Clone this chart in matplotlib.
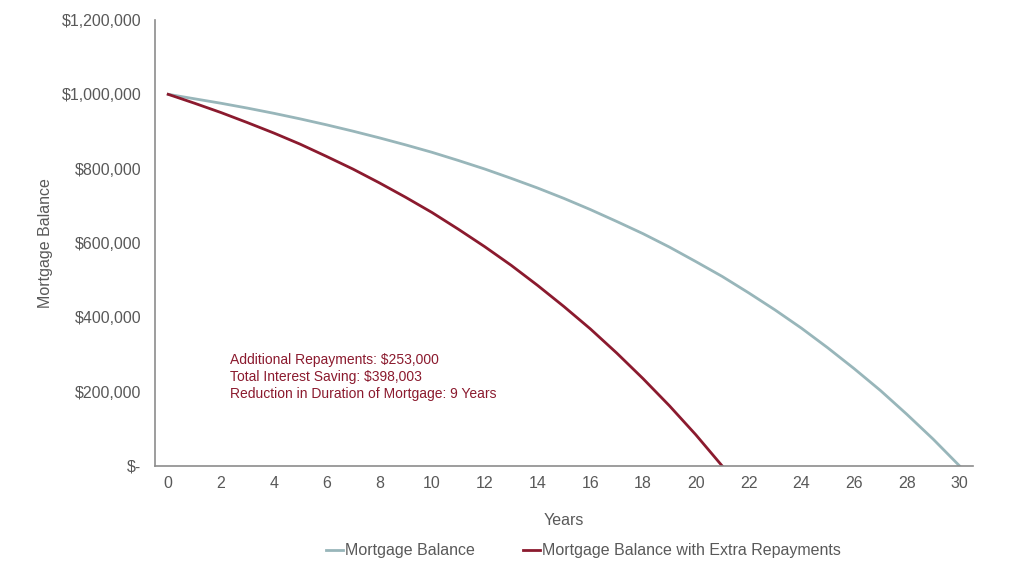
import matplotlib
matplotlib.use('Agg')
import matplotlib.pyplot as plt
from matplotlib.ticker import FuncFormatter

plt.rcParams['font.family'] = ['Liberation Sans', 'DejaVu Sans']

# balances in dollars, one point per year
years = list(range(0, 31))
balance = [1000000, 988000, 976000, 963000, 949000, 934000, 918000, 901000, 883000, 864000,
           844000, 822000, 799000, 774000, 748000, 720000, 690000, 658000, 625000, 589000,
           550000, 510000, 466000, 420000, 371000, 318000, 262000, 203000, 139000, 72000, 0]
years_extra = list(range(0, 22))
balance_extra = [1000000, 976000, 951000, 924000, 896000, 866000, 833000, 799000, 762000, 723000,
                 682000, 637000, 590000, 540000, 486000, 429000, 369000, 304000, 235000, 162000,
                 84000, 0]
notes = ['Additional Repayments: $253,000',
         'Total Interest Saving: $398,003',
         'Reduction in Duration of Mortgage: 9 Years']

grey_col = '#98b6ba'
red_col = '#8b1a2e'
txt_col = '#595959'

fig = plt.figure(figsize=(10.24, 5.8), dpi=100)
ax = fig.add_axes([0.1514, 0.1966, 0.7986, 0.7689])

ax.plot(years, balance, color=grey_col, lw=2, label='Mortgage Balance')
ax.plot(years_extra, balance_extra, color=red_col, lw=2, label='Mortgage Balance with Extra Repayments')

ax.set_xlim(-0.5, 30.5)
ax.set_ylim(0, 1200000)
ax.set_xticks(range(0, 31, 2))
ax.set_yticks(range(0, 1200001, 200000))
ax.yaxis.set_major_formatter(FuncFormatter(lambda v, p: '$-' if v == 0 else '${:,.0f}'.format(v)))
ax.tick_params(length=0, labelsize=11.5, colors=txt_col, pad=10)
ax.tick_params(axis='x', pad=7)

for s in ['top', 'right']:
    ax.spines[s].set_visible(False)
for s in ['left', 'bottom']:
    ax.spines[s].set_color('#8c8c8c')
    ax.spines[s].set_linewidth(1.2)

ax.set_xlabel('Years', fontsize=11.5, color=txt_col, labelpad=16)
ax.set_ylabel('Mortgage Balance', fontsize=11.5, color=txt_col, labelpad=6)

ax.text(2.35, 305000, '\n'.join(notes), color=red_col, fontsize=10, linespacing=1.3, va='top')

fig.legend(*ax.get_legend_handles_labels(), loc='center', bbox_to_anchor=(0.570, 0.050), ncol=2,
           frameon=False, fontsize=11.5, labelcolor=txt_col, handlelength=1.05,
           handletextpad=0.15, columnspacing=3.0)

fig.savefig('out.png', dpi=100, facecolor='white')
